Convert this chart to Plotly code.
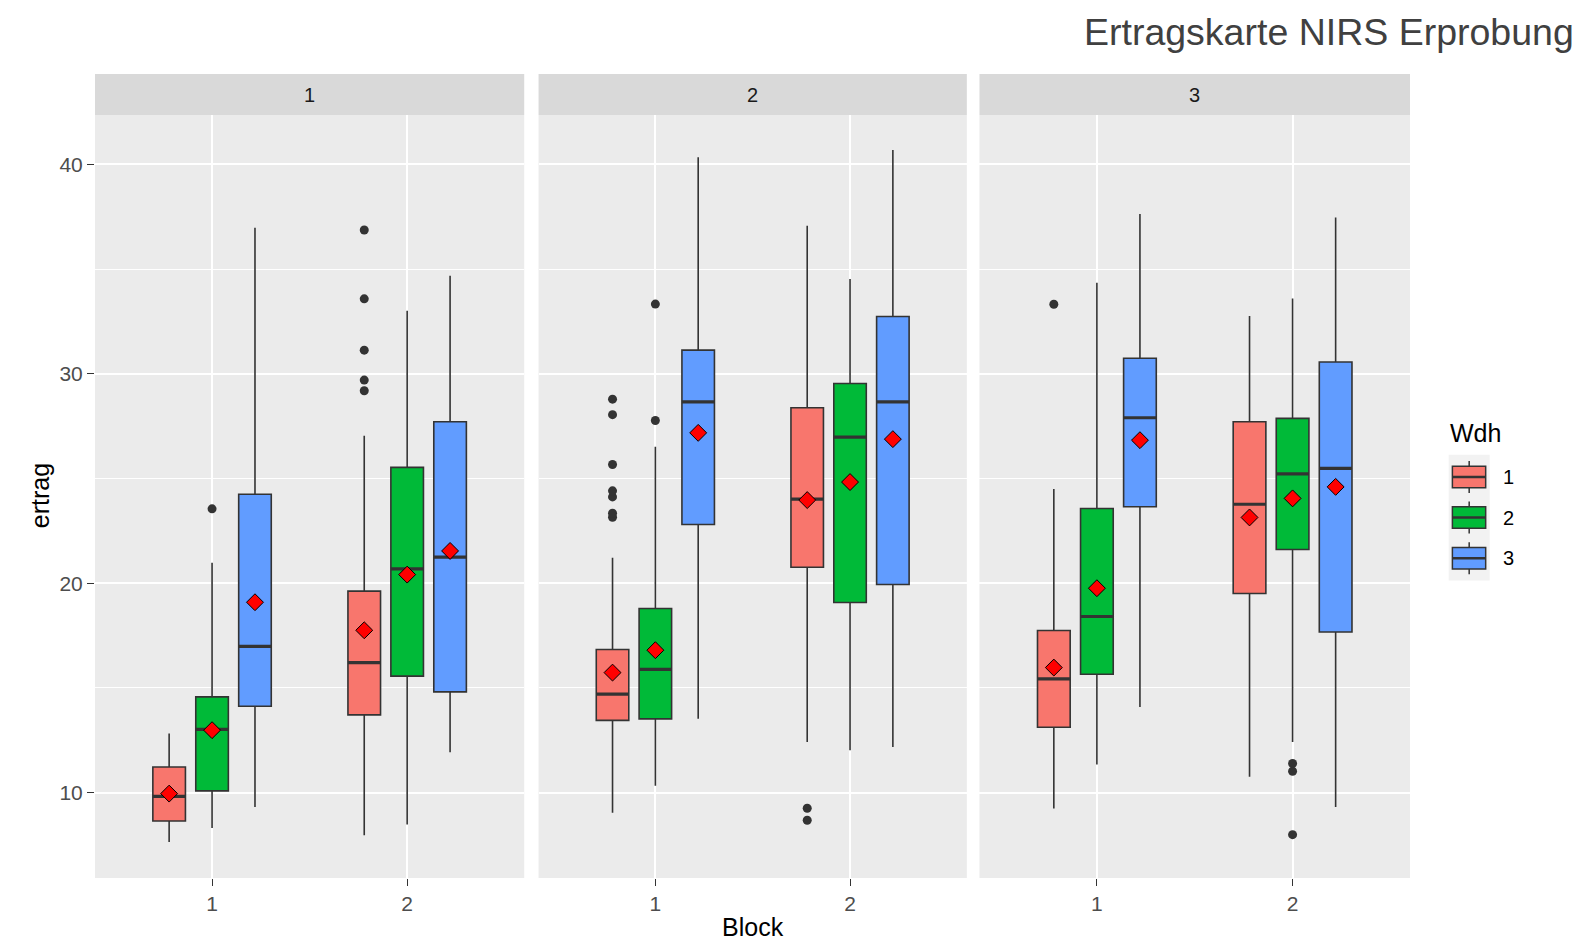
import plotly.graph_objects as go

# ---------------- data ----------------
facets = ["1", "2", "3"]
blocks = [1, 2]
block_labels = ["1", "2"]
wdh_levels = ["1", "2", "3"]
wdh_colors = ["#F8766D", "#00BA38", "#619CFF"]

# statistics indexed [facet][wdh][block]
lower_fence = [
    [[7.64, 7.96], [8.31, 8.47], [9.31, 11.93]],
    [[9.04, 12.42], [10.32, 12.02], [13.52, 12.18]],
    [[9.24, 10.75], [11.34, 12.42], [14.09, 9.31]],
]
q1 = [
    [[8.64, 13.71], [10.08, 15.56], [14.12, 14.81]],
    [[13.45, 20.76], [13.52, 19.08], [22.80, 19.94]],
    [[13.12, 19.51], [15.65, 21.61], [23.65, 17.67]],
]
median = [
    [[9.82, 16.21], [13.02, 20.68], [16.98, 21.24]],
    [[14.70, 24.01], [15.88, 26.98], [28.66, 28.66]],
    [[15.43, 23.77], [18.41, 25.22], [27.90, 25.48]],
]
q3 = [
    [[11.22, 19.62], [14.57, 25.53], [24.25, 27.71]],
    [[16.83, 28.38], [18.79, 29.54], [31.13, 32.74]],
    [[17.74, 27.71], [23.57, 27.87], [30.74, 30.56]],
]
upper_fence = [
    [[12.82, 27.04], [20.97, 33.01], [36.98, 34.68]],
    [[21.21, 37.07], [26.51, 34.53], [40.34, 40.69]],
    [[24.50, 32.76], [34.35, 33.60], [37.63, 37.47]],
]
mean = [
    [[9.95, 17.75], [12.98, 20.41], [19.09, 21.54]],
    [[15.73, 23.97], [16.80, 24.83], [27.18, 26.88]],
    [[15.97, 23.14], [19.76, 24.05], [26.83, 24.60]],
]
outliers = [
    [[[], [29.19, 29.70, 31.13, 33.58, 36.87]], [[23.55], []], [[], []]],
    [[[23.15, 23.34, 24.12, 24.41, 25.67, 28.05, 28.79], [8.68, 9.25]], [[27.77, 33.33], []], [[], []]],
    [[[33.32], []], [[], [7.99, 11.02, 11.39]], [[], []]],
]
y_ticks = [10, 20, 30, 40]
title_text = "Ertragskarte NIRS Erprobung"
x_title = "Block"
y_title = "ertrag"
legend_title = "Wdh"

# ---------------- style ----------------
FONT = "Liberation Sans, Arial, sans-serif"
W, H = 1590, 944
ML, MR, MT, MB = 95, 179.7, 74, 66.3
PW, PH = W - ML - MR, H - MT - MB
dodge = [-0.22, 0.0, 0.22]
box_w = 0.167
x_domains = [[0.0, 0.3264], [0.3373, 0.6630], [0.6726, 1.0]]
panel_top = 0.949
y_range = [5.92, 42.36]
edge = "#333333"


def px(x):
    return (x - ML) / PW


def py(y):
    return 1 - (y - MT) / PH


fig = go.Figure()

for i, f in enumerate(facets):
    s = "" if i == 0 else str(i + 1)
    xa, ya = "x" + s, "y" + s
    for j, w in enumerate(wdh_levels):
        pos = [b + dodge[j] for b in blocks]
        fig.add_trace(go.Box(
            x=pos, q1=q1[i][j], median=median[i][j], q3=q3[i][j],
            lowerfence=lower_fence[i][j], upperfence=upper_fence[i][j],
            width=box_w, fillcolor=wdh_colors[j],
            line=dict(color=edge, width=1.6), whiskerwidth=0,
            boxpoints=False, name=w, legendgroup=w, showlegend=False,
            xaxis=xa, yaxis=ya, hoverinfo="skip",
        ))
    for j, w in enumerate(wdh_levels):
        mx, my = [], []
        for k, b in enumerate(blocks):
            c = b + dodge[j]
            mx += [c - box_w / 2, c + box_w / 2, None]
            my += [median[i][j][k], median[i][j][k], None]
        fig.add_trace(go.Scatter(
            x=mx, y=my, mode="lines", line=dict(color=edge, width=3.2),
            showlegend=False, hoverinfo="skip", xaxis=xa, yaxis=ya,
        ))
    for j, w in enumerate(wdh_levels):
        ox, oy = [], []
        for k, b in enumerate(blocks):
            vals = outliers[i][j][k]
            ox += [b + dodge[j]] * len(vals)
            oy += vals
        if ox:
            fig.add_trace(go.Scatter(
                x=ox, y=oy, mode="markers",
                marker=dict(color=edge, size=9, line=dict(width=0)),
                showlegend=False, hoverinfo="skip", xaxis=xa, yaxis=ya,
            ))
    for j, w in enumerate(wdh_levels):
        fig.add_trace(go.Scatter(
            x=[b + dodge[j] for b in blocks], y=mean[i][j], mode="markers",
            marker=dict(symbol="diamond", color="#FF0000", size=13,
                        line=dict(color="#000000", width=1)),
            showlegend=False, hoverinfo="skip", xaxis=xa, yaxis=ya,
        ))

layout = dict(
    width=W, height=H,
    margin=dict(l=ML, r=MR, t=MT, b=MB),
    paper_bgcolor="white", plot_bgcolor="#EBEBEB",
    font=dict(family=FONT, color="#000000"),
    showlegend=False,
    shapes=[], annotations=[],
)

for i, f in enumerate(facets):
    s = "" if i == 0 else str(i + 1)
    layout["xaxis" + s] = dict(
        domain=x_domains[i], range=[0.4, 2.6], anchor="y" + s,
        tickmode="array", tickvals=blocks, ticktext=block_labels,
        showgrid=True, gridcolor="white", gridwidth=1.6, zeroline=False,
        ticks="outside", ticklen=7, tickwidth=1.4, tickcolor=edge,
        tickfont=dict(size=21, color="#4D4D4D", family=FONT),
        showline=False, fixedrange=True,
    )
    ydict = dict(
        domain=[0, panel_top], range=y_range, anchor="x" + s,
        tickmode="array", tickvals=y_ticks,
        showgrid=True, gridcolor="white", gridwidth=1.6, zeroline=False,
        minor=dict(tickmode="linear", tick0=0, dtick=5, showgrid=True,
                   gridcolor="white", gridwidth=0.8, ticks=""),
        showline=False, fixedrange=True,
    )
    if i == 0:
        ydict.update(ticks="outside", ticklen=7, tickwidth=1.4, tickcolor=edge,
                     tickfont=dict(size=21, color="#4D4D4D", family=FONT))
    else:
        ydict.update(matches="y", showticklabels=False, ticks="")
    layout["yaxis" + s] = ydict
    layout["shapes"].append(dict(
        type="rect", xref="x" + s + " domain", yref="paper",
        x0=0, x1=1, y0=panel_top, y1=1, fillcolor="#D9D9D9",
        line=dict(width=0), layer="below",
    ))
    layout["annotations"].append(dict(
        text=f, xref="x" + s + " domain", yref="paper", x=0.5,
        y=(panel_top + 1) / 2, showarrow=False, xanchor="center", yanchor="middle",
        font=dict(size=20, color="#1A1A1A", family=FONT),
    ))

# ---------------- legend (ggplot-style keys) ----------------
key_x0, key_x1 = 1449, 1490
box_x0, box_x1 = 1452.7, 1486
key_mid = (key_x0 + key_x1) / 2
first_c, step = 476.8, 40.6
layout["shapes"].append(dict(
    type="rect", xref="paper", yref="paper",
    x0=px(key_x0), x1=px(key_x1),
    y0=py(first_c - step / 2 - 2), y1=py(first_c + step * (len(wdh_levels) - 0.5) + 2),
    fillcolor="#F2F2F2", line=dict(width=0), layer="below",
))
for j, w in enumerate(wdh_levels):
    c = first_c + j * step
    layout["shapes"] += [
        dict(type="line", xref="paper", yref="paper", x0=px(key_mid), x1=px(key_mid),
             y0=py(c - 16), y1=py(c + 16), line=dict(color=edge, width=1.5)),
        dict(type="rect", xref="paper", yref="paper", x0=px(box_x0), x1=px(box_x1),
             y0=py(c - 10.8), y1=py(c + 10.8), fillcolor=wdh_colors[j],
             line=dict(color=edge, width=1.5)),
        dict(type="line", xref="paper", yref="paper", x0=px(box_x0), x1=px(box_x1),
             y0=py(c), y1=py(c), line=dict(color=edge, width=2.5)),
    ]
    layout["annotations"].append(dict(
        text=w, xref="paper", yref="paper", x=px(1501), y=py(c),
        showarrow=False, xanchor="left", yanchor="middle",
        font=dict(size=20, color="#000000", family=FONT),
    ))
layout["annotations"].append(dict(
    text=legend_title, xref="paper", yref="paper", x=px(1448), y=py(433),
    showarrow=False, xanchor="left", yanchor="middle",
    font=dict(size=25, color="#000000", family=FONT),
))

layout["annotations"] += [
    dict(text=y_title, xref="paper", yref="paper", x=px(40), y=py(496),
         textangle=-90, showarrow=False, xanchor="center", yanchor="middle",
         font=dict(size=25, color="#000000", family=FONT)),
    dict(text=x_title, xref="paper", yref="paper", x=0.5, y=py(927),
         showarrow=False, xanchor="center", yanchor="middle",
         font=dict(size=25, color="#000000", family=FONT)),
    dict(text=title_text, xref="paper", yref="paper", x=px(1576), y=py(32),
         showarrow=False, xanchor="right", yanchor="middle",
         font=dict(size=37.5, color="#404040", family=FONT)),
]

fig.update_layout(**layout)
fig.write_html("out.html", post_script="document.body.style.margin='0';",
               config={"displayModeBar": False})
